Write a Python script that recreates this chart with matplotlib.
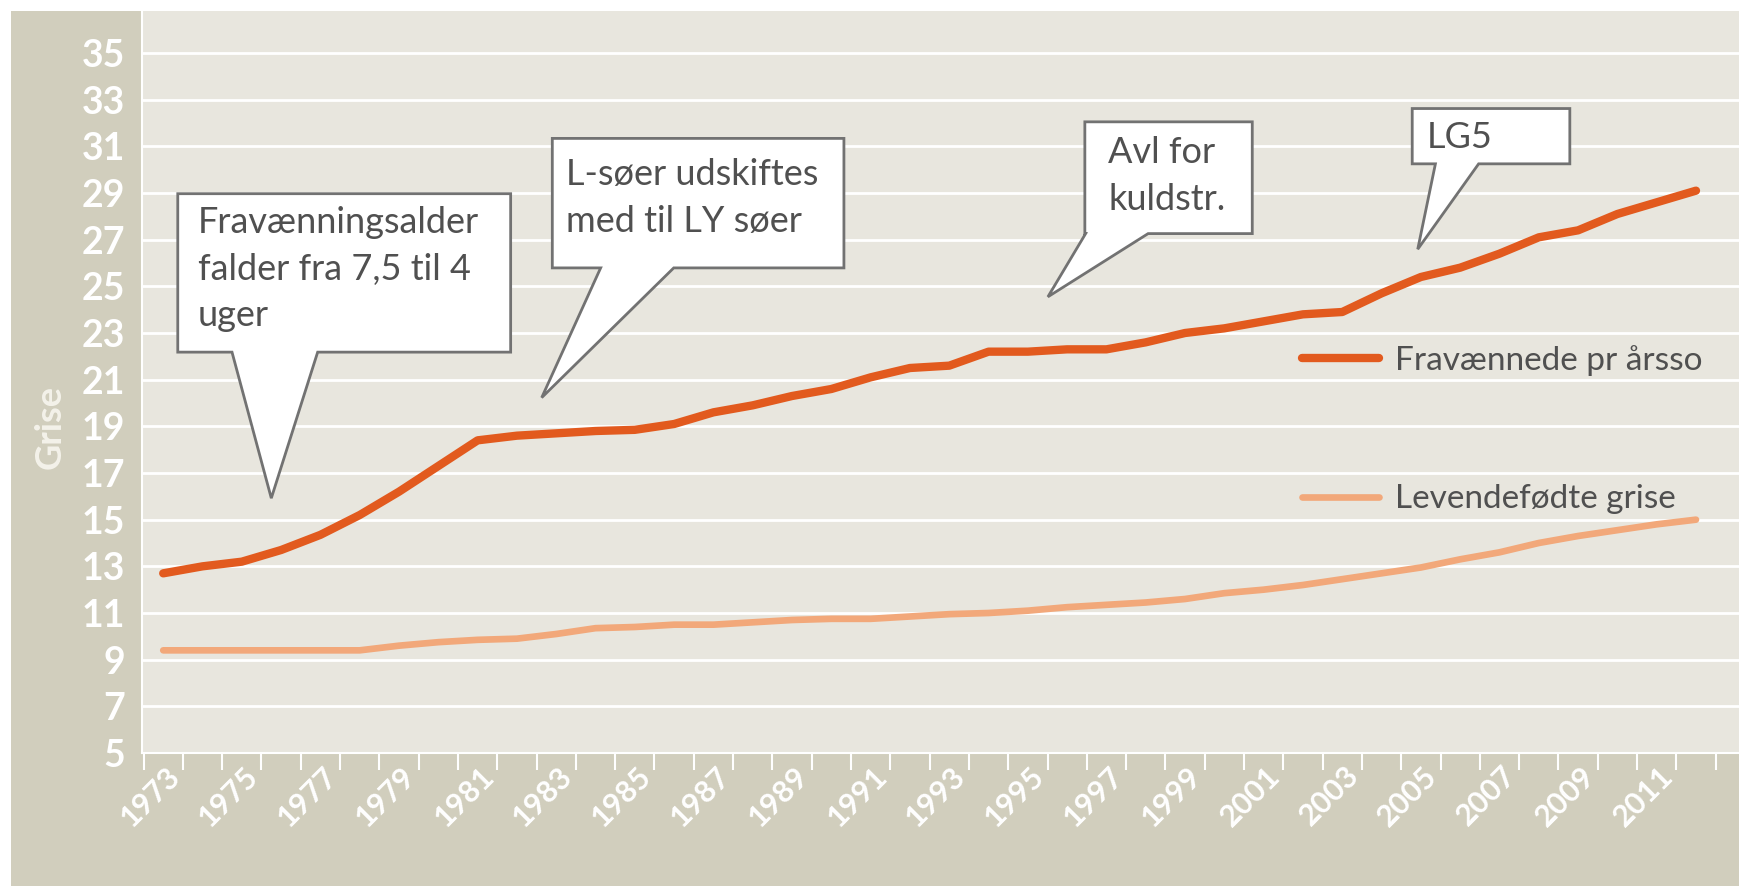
import matplotlib
matplotlib.use("Agg")
import matplotlib.pyplot as plt
from matplotlib.patches import Polygon, Rectangle
from matplotlib.transforms import ScaledTranslation

# ---------------- data ----------------
years = list(range(1973, 2013))
fravaennede = [12.7, 13.0, 13.2, 13.7, 14.35, 15.2, 16.2, 17.3, 18.4, 18.6,
               18.7, 18.8, 18.85, 19.1, 19.6, 19.9, 20.3, 20.6, 21.1, 21.5,
               21.6, 22.2, 22.2, 22.3, 22.3, 22.6, 23.0, 23.2, 23.5, 23.8,
               23.9, 24.7, 25.4, 25.8, 26.4, 27.1, 27.4, 28.1, 28.6, 29.1]
levendefodte = [9.4, 9.4, 9.4, 9.4, 9.4, 9.4, 9.6, 9.75, 9.85, 9.9,
                10.1, 10.35, 10.4, 10.5, 10.5, 10.6, 10.7, 10.75, 10.75, 10.85,
                10.95, 11.0, 11.1, 11.25, 11.35, 11.45, 11.6, 11.85, 12.0, 12.2,
                12.45, 12.7, 12.95, 13.3, 13.6, 14.0, 14.3, 14.55, 14.8, 15.0]
series_labels = ["Fravænnede pr årsso", "Levendefødte grise"]
y_ticks = list(range(5, 37, 2))
x_tick_years = list(range(1973, 2012, 2))
ylabel = "Grise"

callout_texts = ["Fravænningsalder\nfalder fra 7,5 til 4\nuger",
                 "L-søer udskiftes\nmed til LY søer",
                 "Avl for\nkuldstr.",
                 "LG5"]

# ---------------- style ----------------
TAN = "#d1cebd"
PLOTBG = "#e8e6de"
DARK = "#e25a1e"
LIGHT = "#f2a87a"
TXT = "#505050"
EDGE = "#727272"
FONT = ["Lato", "DejaVu Sans"]
plt.rcParams['font.family'] = FONT

W, H = 1740, 886
fig = plt.figure(figsize=(W / 100, H / 100), dpi=100)
fig.patch.set_facecolor("white")
fig.patches.append(Rectangle((11 / W, 0), 1 - 11 / W, 1 - 11 / H,
                             transform=fig.transFigure, facecolor=TAN,
                             edgecolor="none", zorder=-10))

left, right = 142 / W, 1.0
bottom, top = (H - 753) / H, (H - 11) / H
ax = fig.add_axes([left, bottom, right - left, top - bottom])
ax.set_facecolor(PLOTBG)

ax.set_xlim(1972.46, 2013.12)
ax.set_ylim(5, 36.8)

for y in y_ticks:
    ax.axhline(y, color="white", lw=2.0, zorder=1)

ax.plot(years, fravaennede, color=DARK, lw=6.0, solid_capstyle="round",
        solid_joinstyle="round", zorder=3, label=series_labels[0])
ax.plot(years, levendefodte, color=LIGHT, lw=4.8, solid_capstyle="round",
        solid_joinstyle="round", zorder=3, label=series_labels[1])

for s in ["top", "right"]:
    ax.spines[s].set_visible(False)
for s in ["left", "bottom"]:
    ax.spines[s].set_color("white")
    ax.spines[s].set_linewidth(1.5)

ax.set_yticks(y_ticks)
ax.set_yticklabels([str(v) for v in y_ticks], color="white",
                   fontsize=27, fontweight="bold")
ax.tick_params(axis="y", length=0, pad=12)

ax.set_xticks(x_tick_years)
ax.set_xticklabels([str(v) for v in x_tick_years], rotation=45, ha="right",
                   va="top", rotation_mode="anchor", color="white",
                   fontsize=22, fontweight="bold")
ax.tick_params(axis="x", which="major", length=0, pad=6)
offset = ScaledTranslation(2 / 100, 0, fig.dpi_scale_trans)
for lbl in ax.get_xticklabels():
    lbl.set_transform(lbl.get_transform() + offset)
ax.set_xticks([y - 0.5 for y in years] + [2012.5], minor=True)
ax.tick_params(axis="x", which="minor", length=12, width=1.5, color="white")

fig.text(50 / W, 1 - 427 / H, ylabel, rotation=90, color="#f4f2ea",
         fontsize=26, fontweight="bold", ha="center", va="center")

# legend
leg = ax.legend(loc="upper left", bbox_to_anchor=(0.726, 0.550),
                frameon=False, fontsize=24, handlelength=2.3,
                handletextpad=0.5, labelspacing=3.25, borderpad=0,
                borderaxespad=0)
for t in leg.get_texts():
    t.set_color(TXT)
for ln in leg.get_lines():
    ln.set_solid_capstyle("round")

# callouts (box + pointer) in data coords
callouts = [
    dict(box=(1973.37, 1981.84, 28.97, 22.18), base=(1974.75, 1976.93),
         tip=(1975.75, 15.92), txt=(1973.88, 25.74)),
    dict(box=(1982.90, 1990.32, 31.34, 25.79), base=(1984.13, 1985.99),
         tip=(1982.63, 20.23), txt=(1983.25, 28.78)),
    dict(box=(1996.45, 2000.71, 32.05, 27.26), base=(1996.47, 1998.06),
         tip=(1995.51, 24.55), txt=(1997.05, 29.72)),
    dict(box=(2004.78, 2008.79, 32.62, 30.25), base=(2005.37, 2006.47),
         tip=(2004.92, 26.59), txt=(2005.15, 31.40)),
]
for c, text in zip(callouts, callout_texts):
    l, r, t, b = c["box"]
    b0, b1 = c["base"]
    tx, ty = c["tip"]
    pts = [(l, t), (r, t), (r, b), (b1, b), (tx, ty), (b0, b), (l, b)]
    ax.add_patch(Polygon(pts, closed=True, facecolor="white", edgecolor=EDGE,
                         lw=2.0, zorder=5, joinstyle="miter"))
    ax.text(c["txt"][0], c["txt"][1], text, fontsize=26, color=TXT,
            ha="left", va="center", linespacing=1.5, zorder=6)

fig.savefig("out.png", dpi=100, facecolor=fig.get_facecolor())
